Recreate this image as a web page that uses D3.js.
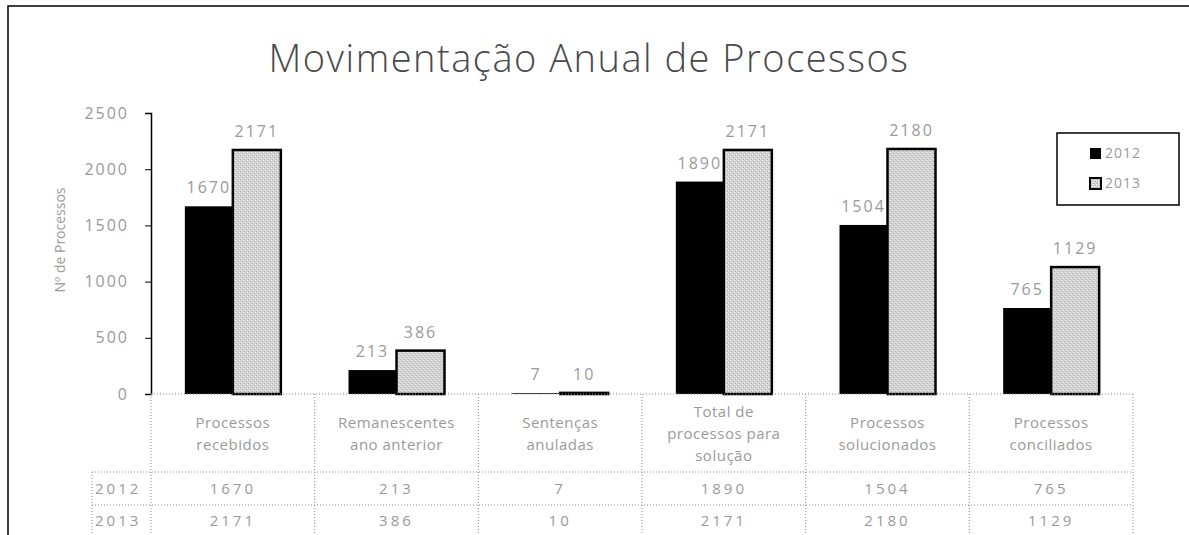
<!DOCTYPE html>
<html>
<head>
<meta charset="utf-8">
<script src="https://cdn.jsdelivr.net/npm/d3@7"></script>
<style>
  body { margin: 0; background: #fff; }
  text { font-family: "Open Sans", "DejaVu Sans", sans-serif; }
</style>
</head>
<body>
<svg id="chart" width="1189" height="535"></svg>
<script>
/*
Data
*/
var categories = [
  ["Processos", "recebidos"],
  ["Remanescentes", "ano anterior"],
  ["Sentenças", "anuladas"],
  ["Total de", "processos para", "solução"],
  ["Processos", "solucionados"],
  ["Processos", "conciliados"]
];
var years = ["2012", "2013"];
var values2012 = [1670, 213, 7, 1890, 1504, 765];
var values2013 = [2171, 386, 10, 2171, 2180, 1129];
var yTicks = [0, 500, 1000, 1500, 2000, 2500];

var series = [values2012, values2013];
var labelColor = "#9a9a9a";

/*
Layout
*/
var svg = d3.select("#chart");
var plotLeft = 151, plotRight = 1133, plotTop = 113, plotBase = 394;
var rowTop1 = 472, rowTop2 = 505, tableLeft = 92, tableBottom = 535;

var defs = svg.append("defs");
var pat = defs.append("pattern")
  .attr("id", "grain")
  .attr("width", 4).attr("height", 4)
  .attr("patternUnits", "userSpaceOnUse");
pat.append("rect").attr("width", 4).attr("height", 4).attr("fill", "#d2d2d2");
pat.append("rect").attr("x", 0).attr("y", 0).attr("width", 1).attr("height", 1).attr("fill", "#f4f4f4");
pat.append("rect").attr("x", 2).attr("y", 2).attr("width", 1).attr("height", 1).attr("fill", "#f4f4f4");
pat.append("rect").attr("x", 3).attr("y", 1).attr("width", 1).attr("height", 1).attr("fill", "#a8a8a8");
pat.append("rect").attr("x", 1).attr("y", 3).attr("width", 1).attr("height", 1).attr("fill", "#b4b4b4");

// outer frame
svg.append("path")
  .attr("d", "M8,540 L8,6 L1195,6")
  .attr("fill", "none").attr("stroke", "#000").attr("stroke-width", 1.5);

// title
svg.append("text")
  .attr("x", 589).attr("y", 72)
  .attr("text-anchor", "middle")
  .attr("font-size", 38).attr("font-weight", 300)
  .attr("letter-spacing", 1.5)
  .attr("fill", "#4a4a4a")
  .text("Movimentação Anual de Processos");

/*
Scales
*/
var x = d3.scaleBand()
  .domain(d3.range(categories.length))
  .range([plotLeft, plotRight])
  .padding(0);

var xs = d3.scaleBand()
  .domain(years)
  .range([0, x.bandwidth()])
  .paddingInner(0)
  .paddingOuter(0.705);

var y = d3.scaleLinear()
  .domain([0, 2500])
  .range([plotBase, plotTop]);

// y axis
var yAxis = svg.append("g")
  .attr("transform", "translate(" + plotLeft + ",0)")
  .call(d3.axisLeft(y).tickValues(yTicks).tickFormat(d3.format("d")).tickSize(6).tickPadding(16));
yAxis.select(".domain").attr("stroke", "#000").attr("stroke-width", 1.5);
yAxis.selectAll(".tick line").attr("stroke", "#000");
yAxis.selectAll(".tick text")
  .attr("font-size", 16).attr("fill", labelColor)
  .attr("letter-spacing", 2)
  .style("font-family", "\"Open Sans\", sans-serif");

svg.append("text")
  .attr("transform", "translate(65,240) rotate(-90)")
  .attr("text-anchor", "middle")
  .attr("font-size", 14).attr("fill", labelColor)
  .text("Nº de Processos");

/*
Bars
*/
var groups = svg.append("g").selectAll("g")
  .data(categories)
  .enter().append("g")
  .attr("transform", function (d, i) { return "translate(" + x(i) + ",0)"; });

groups.selectAll("rect")
  .data(function (d, i) { return years.map(function (yr, k) { return { yr: yr, v: series[k][i] }; }); })
  .enter().append("rect")
  .attr("x", function (d) { return xs(d.yr); })
  .attr("y", function (d) { return y(d.v); })
  .attr("width", xs.bandwidth())
  .attr("height", function (d) { return plotBase - y(d.v); })
  .attr("fill", function (d) { return d.yr === "2012" ? "#000" : "url(#grain)"; })
  .attr("stroke", function (d) { return d.yr === "2012" ? "none" : "#000"; })
  .attr("stroke-width", 2.5);

groups.selectAll(".val")
  .data(function (d, i) { return years.map(function (yr, k) { return { yr: yr, v: series[k][i] }; }); })
  .enter().append("text")
  .attr("class", "val")
  .attr("x", function (d) { return xs(d.yr) + xs.bandwidth() / 2; })
  .attr("y", function (d) { return y(d.v) - 13; })
  .attr("text-anchor", "middle")
  .attr("font-size", 16).attr("fill", labelColor)
  .attr("letter-spacing", 2)
  .text(function (d) { return d.v; });

/*
Data table
*/
var grid = svg.append("g")
  .attr("stroke", "#8a8a8a")
  .attr("stroke-width", 1)
  .attr("stroke-dasharray", "1,2")
  .attr("fill", "none");

grid.append("line").attr("x1", plotLeft).attr("x2", plotRight).attr("y1", plotBase).attr("y2", plotBase);
[rowTop1, rowTop2].forEach(function (yy) {
  grid.append("line").attr("x1", tableLeft).attr("x2", plotRight).attr("y1", yy).attr("y2", yy);
});
d3.range(categories.length + 1).forEach(function (i) {
  var xx = i < categories.length ? x(i) : plotRight;
  grid.append("line").attr("x1", xx).attr("x2", xx).attr("y1", plotBase).attr("y2", tableBottom);
});
grid.append("line").attr("x1", tableLeft).attr("x2", tableLeft).attr("y1", rowTop1).attr("y2", tableBottom);

// category names
groups.append("text")
  .attr("text-anchor", "middle")
  .attr("font-size", 15).attr("fill", labelColor)
  .attr("letter-spacing", 0.5)
  .each(function (d) {
    var t = d3.select(this);
    var first = d.length === 3 ? 417 : 428;
    d.forEach(function (line, j) {
      t.append("tspan")
        .attr("x", x.bandwidth() / 2)
        .attr("y", first + j * 22)
        .text(line);
    });
  });

// row headers and values
var rowY = [494, 526];
years.forEach(function (yr, k) {
  svg.append("text")
    .attr("x", tableLeft + 3).attr("y", rowY[k])
    .attr("font-size", 15).attr("fill", labelColor)
    .attr("letter-spacing", 3)
    .text(yr);
  groups.append("text")
    .attr("x", x.bandwidth() / 2).attr("y", rowY[k])
    .attr("text-anchor", "middle")
    .attr("font-size", 15).attr("fill", labelColor)
    .attr("letter-spacing", 3)
    .text(function (d, i) { return series[k][i]; });
});

/*
Legend
*/
var legend = svg.append("g").attr("transform", "translate(1057,133)");
legend.append("rect")
  .attr("width", 122).attr("height", 72)
  .attr("fill", "#fff").attr("stroke", "#000").attr("stroke-width", 1.5);
years.forEach(function (yr, k) {
  var row = legend.append("g").attr("transform", "translate(33," + (15 + k * 30) + ")");
  row.append("rect")
    .attr("width", 11).attr("height", 11)
    .attr("fill", k === 0 ? "#000" : "url(#grain)")
    .attr("stroke", k === 0 ? "none" : "#000")
    .attr("stroke-width", 2);
  row.append("text")
    .attr("x", 15).attr("y", 10)
    .attr("font-size", 14).attr("fill", labelColor)
    .attr("letter-spacing", 1)
    .text(yr);
});
</script>
</body>
</html>
